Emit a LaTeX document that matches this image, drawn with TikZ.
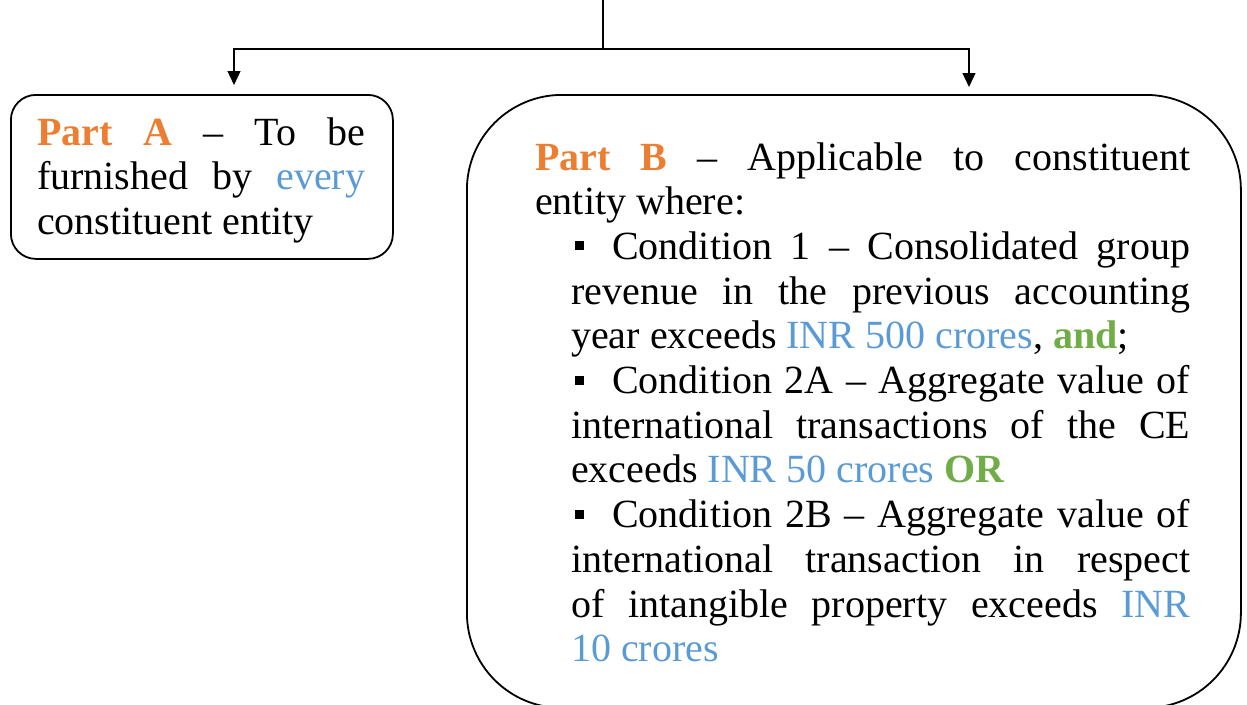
\documentclass[tikz,border=0pt]{standalone}
\usepackage{fontspec}
\setmainfont{Liberation Serif}
\usetikzlibrary{arrows.meta}
\definecolor{partorange}{RGB}{237,125,49}
\definecolor{amtblue}{RGB}{91,155,213}
\definecolor{joingreen}{RGB}{112,173,71}
% small square bullet and the hanging start of a condition line
\newcommand{\sqbullet}{\rule[9pt]{9pt}{9pt}}
\newcommand{\condstart}{\makebox[41pt][l]{\hspace{4pt}\sqbullet}}
\begin{document}
\begin{tikzpicture}[x=1pt,y=-1pt,
  box/.style={draw, line width=1.8pt, inner sep=0pt, anchor=north west},
  body/.style={anchor=base west, inner sep=0pt, align=justify,
    font=\fontsize{40}{44.7}\selectfont},
  wire/.style={line width=1.3pt},
  feed/.style={wire, -{Triangle[length=14pt,width=13pt]}}]
\useasboundingbox (0,0) rectangle (1247,704);
\clip (0,0) rectangle (1247,704);

% outline boxes
\node[box, rounded corners=25pt, minimum width=382pt, minimum height=164pt] (boxA) at (10,94) {};
\node[box, rounded corners=95pt, minimum width=774pt, minimum height=613pt] (boxB) at (466,94) {};

% box texts
\node[body, text width=328pt] (textA) at (37,145)
  {\textcolor{partorange}{\textbf{Part A}} – To be\linebreak
   furnished by \textcolor{amtblue}{every}\linebreak
   constituent entity};

\node[body, text width=655pt] (textB) at (535,170)
  {\textcolor{partorange}{\textbf{Part B}} – Applicable to constituent\linebreak
   entity where:\par
   {\leftskip=36pt
    \condstart Condition 1 – Consolidated group\linebreak
    revenue in the previous accounting\linebreak
    year exceeds \textcolor{amtblue}{INR 500 crores}, \textcolor{joingreen}{\textbf{and}};\par
    \condstart Condition 2A – Aggregate value of\linebreak
    international transactions of the CE\linebreak
    exceeds \textcolor{amtblue}{INR 50 crores} \textcolor{joingreen}{\textbf{OR}}\par
    \condstart Condition 2B – Aggregate value of\linebreak
    international transaction in respect\linebreak
    of intangible property exceeds \textcolor{amtblue}{INR}\linebreak
    \textcolor{amtblue}{10 crores}\par}};

% connectors
\coordinate (top) at (603,0);
\coordinate (split) at (603,49);
\coordinate (tipA) at (234,85);
\coordinate (tipB) at (969,87);
\draw[wire] (top) -- (split);
\draw[feed] (split) -| (tipA);
\draw[feed] (split) -| (tipB);
\end{tikzpicture}
\end{document}
